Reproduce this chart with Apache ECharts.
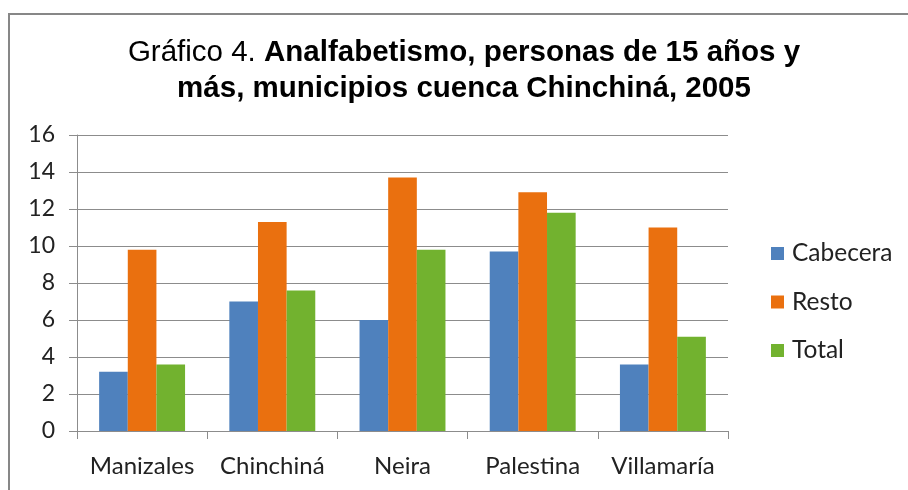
<!DOCTYPE html>
<html>
<head>
<meta charset="utf-8">
<script src="https://cdn.jsdelivr.net/npm/echarts@6/dist/echarts.min.js"></script>
<style>html,body{margin:0;padding:0;background:#fff;}#c{width:908px;height:490px;}</style>
</head>
<body>
<div id="c"></div>
<script>
const categories = ['Manizales', 'Chinchiná', 'Neira', 'Palestina', 'Villamaría'];
const cabecera = [3.2, 7.0, 6.0, 9.7, 3.6];
const resto = [9.8, 11.3, 13.7, 12.9, 11.0];
const total = [3.6, 7.6, 9.8, 11.8, 5.1];
const seriesNames = ['Cabecera', 'Resto', 'Total'];
const yTicks = [0, 2, 4, 6, 8, 10, 12, 14, 16];

const chart = echarts.init(document.getElementById('c'), null, {renderer: 'canvas'});
const axisFont = 'Lato';
const gridColor = '#8c8c8c';
chart.setOption({
  animation: false,
  backgroundColor: '#fff',
  title: {
    text: '{n|Gráfico 4. }{b|Analfabetismo, personas de 15 años y}\n{b|más, municipios cuenca Chinchiná, 2005}',
    left: 464, top: 35, textAlign: 'center', padding: 0,
    textStyle: {
      rich: {
        n: {fontFamily: 'Liberation Sans', fontSize: 29.5, fontWeight: 'normal', color: '#000', lineHeight: 36},
        b: {fontFamily: 'Liberation Sans', fontSize: 29.5, fontWeight: 'bold', color: '#000', lineHeight: 36}
      }
    }
  },
  legend: {
    orient: 'vertical', left: 771, top: 241, padding: 0,
    itemWidth: 13, itemHeight: 13, itemGap: 23.5,
    icon: 'rect',
    textStyle: {fontFamily: axisFont, fontSize: 24.5, color: '#222', padding: [0, 0, 0, 3]},
    data: seriesNames
  },
  grid: {left: 77, right: 180, top: 135, bottom: 59, containLabel: false},
  xAxis: {
    type: 'category', data: categories,
    axisLine: {lineStyle: {color: gridColor, width: 1}},
    axisTick: {show: true, length: 8, lineStyle: {color: gridColor}},
    axisLabel: {fontFamily: axisFont, fontSize: 24, color: '#222', margin: 23, interval: 0, hideOverlap: false}
  },
  yAxis: {
    type: 'value', min: 0, max: 16, interval: 2,
    axisLine: {show: true, lineStyle: {color: gridColor, width: 1}},
    axisTick: {show: true, length: 8, lineStyle: {color: gridColor}},
    splitLine: {lineStyle: {color: gridColor, width: 1.2}},
    axisLabel: {fontFamily: axisFont, fontSize: 23, color: '#222', margin: 22,
      formatter: v => yTicks.includes(v) ? String(v) : ''}
  },
  series: [
    {name: seriesNames[0], type: 'bar', data: cabecera, itemStyle: {color: '#4F81BD'}, barGap: '0%', barCategoryGap: '34%'},
    {name: seriesNames[1], type: 'bar', data: resto, itemStyle: {color: '#EA700F'}},
    {name: seriesNames[2], type: 'bar', data: total, itemStyle: {color: '#72B22F'}}
  ],
  graphic: [
    {type: 'line', shape: {x1: 8, y1: 14, x2: 908, y2: 14}, style: {stroke: '#878787', lineWidth: 2}},
    {type: 'line', shape: {x1: 9, y1: 13, x2: 9, y2: 490}, style: {stroke: '#878787', lineWidth: 2}}
  ]
});
</script>
</body>
</html>
